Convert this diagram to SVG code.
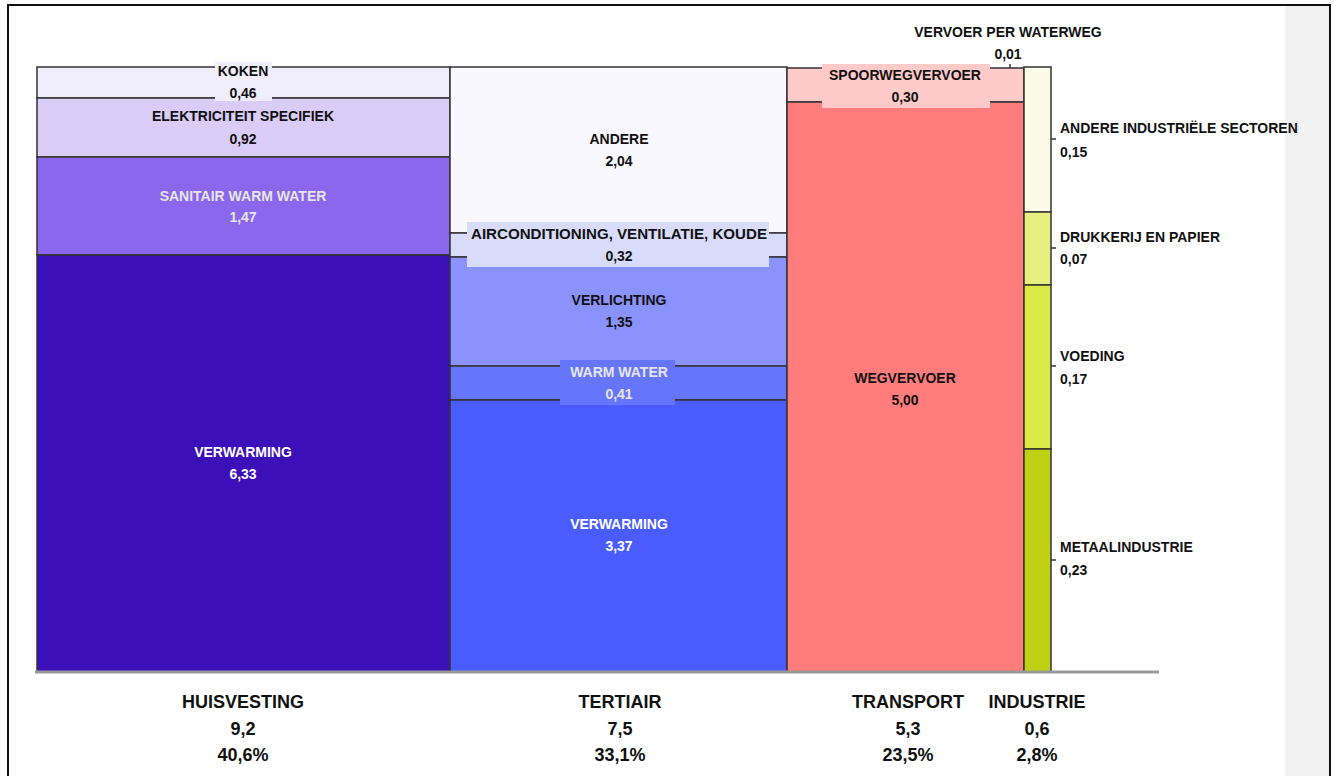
<svg xmlns="http://www.w3.org/2000/svg" width="1336" height="776" viewBox="0 0 1336 776">
<style>
.t{font-family:"Liberation Sans",Arial,sans-serif;font-weight:bold;font-size:14px;text-anchor:middle;fill:#111}
.w{fill:#ffffff}
.g{fill:#e6e6e6}
.l{text-anchor:start}
.b{font-family:"Liberation Sans",Arial,sans-serif;font-weight:bold;font-size:18px;text-anchor:middle;fill:#111}
.seg{stroke:#333;stroke-width:1.5}
.sep{stroke:#333;stroke-width:2;fill:none}
.tick{stroke:#333;stroke-width:1.5;fill:none}
</style>
<rect x="0" y="0" width="1336" height="776" fill="#ffffff"/>
<rect x="1285" y="6" width="44" height="772" fill="#f2f2f2"/>
<rect x="8" y="5" width="1322" height="790" fill="none" stroke="#111" stroke-width="2"/>

<g id="huisvesting">
<rect class="seg" x="37" y="67" width="413" height="31" fill="#f0edfc"/>
<rect class="seg" x="37" y="98" width="413" height="59" fill="#d9cdf8"/>
<rect class="seg" x="37" y="157" width="413" height="98" fill="#8a67ed"/>
<rect class="seg" x="37" y="255" width="413" height="417" fill="#3c10b9"/>
<rect x="215" y="62" width="57" height="39" fill="#f0edfc"/>
<text class="t" x="243" y="76">KOKEN</text>
<text class="t" x="243" y="98">0,46</text>
<text class="t" x="243" y="121">ELEKTRICITEIT SPECIFIEK</text>
<text class="t" x="243" y="144">0,92</text>
<text class="t g" x="243" y="201">SANITAIR WARM WATER</text>
<text class="t g" x="243" y="222">1,47</text>
<text class="t w" x="243" y="457">VERWARMING</text>
<text class="t w" x="243" y="479">6,33</text>
</g>

<g id="tertiair">
<rect class="seg" x="450" y="67" width="337" height="166" fill="#f8f8fe"/>
<rect class="seg" x="450" y="233" width="337" height="24" fill="#d8dcfa"/>
<rect class="seg" x="450" y="257" width="337" height="109" fill="#8a92fd"/>
<rect class="seg" x="450" y="366" width="337" height="34" fill="#6676fc"/>
<rect class="seg" x="450" y="400" width="337" height="272" fill="#4a5bff"/>
<rect x="467" y="222" width="302" height="45" fill="#d8dcfa"/>
<rect x="560" y="360" width="115" height="45" fill="#6676fc"/>
<text class="t" x="619" y="144">ANDERE</text>
<text class="t" x="619" y="166">2,04</text>
<text class="t" x="619" y="239" textLength="296" lengthAdjust="spacingAndGlyphs">AIRCONDITIONING, VENTILATIE, KOUDE</text>
<text class="t" x="619" y="261">0,32</text>
<text class="t" x="619" y="305">VERLICHTING</text>
<text class="t" x="619" y="327">1,35</text>
<text class="t g" x="619" y="377">WARM WATER</text>
<text class="t g" x="619" y="399">0,41</text>
<text class="t w" x="619" y="529">VERWARMING</text>
<text class="t w" x="619" y="551">3,37</text>
</g>

<g id="transport">
<rect class="seg" x="787" y="68" width="237" height="34" fill="#ffcaca"/>
<rect class="seg" x="787" y="102" width="237" height="570" fill="#ff7c7c"/>
<rect x="822" y="64" width="168" height="44" fill="#ffcaca"/>
<text class="t" x="905" y="80">SPOORWEGVERVOER</text>
<text class="t" x="905" y="102">0,30</text>
<text class="t" x="905" y="383">WEGVERVOER</text>
<text class="t" x="905" y="405">5,00</text>
<text class="t" x="1008" y="37">VERVOER PER WATERWEG</text>
<text class="t" x="1008" y="59">0,01</text>
</g>

<g id="industrie">
<rect class="seg" x="1024" y="67" width="27" height="145" fill="#fafbe9"/>
<rect class="seg" x="1024" y="212" width="27" height="73" fill="#e6ef80"/>
<rect class="seg" x="1024" y="285" width="27" height="164" fill="#dcea45"/>
<rect class="seg" x="1024" y="449" width="27" height="223" fill="#c0d015"/>
<text class="t l" x="1060" y="133">ANDERE INDUSTRIËLE SECTOREN</text>
<text class="t l" x="1060" y="157">0,15</text>
<text class="t l" x="1060" y="242">DRUKKERIJ EN PAPIER</text>
<text class="t l" x="1060" y="264">0,07</text>
<text class="t l" x="1060" y="361">VOEDING</text>
<text class="t l" x="1060" y="384">0,17</text>
<text class="t l" x="1060" y="552">METAALINDUSTRIE</text>
<text class="t l" x="1060" y="575">0,23</text>
</g>

<g id="connectors">
<line class="tick" x1="1010" y1="64" x2="1010" y2="68"/>
<line class="tick" x1="1051" y1="139" x2="1056" y2="139"/>
<line class="tick" x1="1051" y1="248" x2="1056" y2="248"/>
<line class="tick" x1="1051" y1="366" x2="1056" y2="366"/>
<line class="tick" x1="1051" y1="560" x2="1056" y2="560"/>
<line x1="35" y1="672" x2="1159" y2="672" stroke="#999" stroke-width="3"/>
</g>

<g id="axis-labels">
<text class="b" x="243" y="708">HUISVESTING</text>
<text class="b" x="243" y="735">9,2</text>
<text class="b" x="243" y="761">40,6%</text>
<text class="b" x="620" y="708">TERTIAIR</text>
<text class="b" x="620" y="735">7,5</text>
<text class="b" x="620" y="761">33,1%</text>
<text class="b" x="908" y="708">TRANSPORT</text>
<text class="b" x="908" y="735">5,3</text>
<text class="b" x="908" y="761">23,5%</text>
<text class="b" x="1037" y="708">INDUSTRIE</text>
<text class="b" x="1037" y="735">0,6</text>
<text class="b" x="1037" y="761">2,8%</text>
</g>
</svg>
